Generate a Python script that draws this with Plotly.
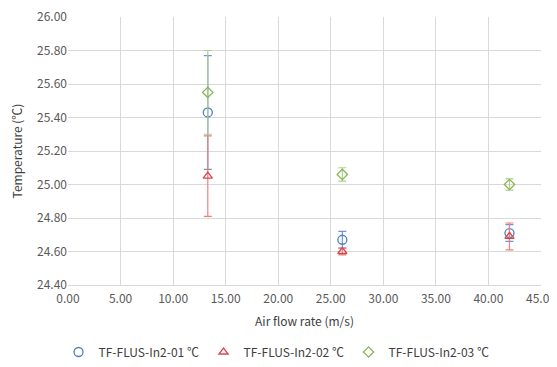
import plotly.graph_objects as go

x_vals = [13.3, 26.1, 42.0]
s1_name = "TF-FLUS-In2-01 ℃"
s1_vals = [25.43, 24.67, 24.71]
s1_err = [0.34, 0.05, 0.05]
s2_name = "TF-FLUS-In2-02 ℃"
s2_vals = [25.05, 24.60, 24.69]
s2_err = [0.24, 0.02, 0.08]
s3_name = "TF-FLUS-In2-03 ℃"
s3_vals = [25.55, 25.06, 25.00]
s3_err = [0.25, 0.04, 0.033]

x_ticks = [0, 5, 10, 15, 20, 25, 30, 35, 40, 45]
y_ticks = [24.4, 24.6, 24.8, 25.0, 25.2, 25.4, 25.6, 25.8, 26.0]

FONT = "Noto Sans CJK KR, Noto Sans, sans-serif"

fig = go.Figure()
order = [
    (s1_name, s1_vals, s1_err, "circle-open", "#4F7FC4", "#6C94D0", 9),
    (s2_name, s2_vals, s2_err, "triangle-up-open", "#D9464A", "#F07F80", 8),
    (s3_name, s3_vals, s3_err, "diamond-open", "#8DB456", "#A9D08E", 8),
]
for name, vals, err, sym, col, ecol, sz in order:
    fig.add_trace(go.Scatter(
        x=x_vals, y=vals, mode="markers", name=name,
        marker=dict(symbol=sym, size=sz, color=col, line=dict(width=1.3, color=col)),
        error_y=dict(type="data", array=err, visible=True, color=ecol, thickness=1.2, width=4),
    ))

fig.update_layout(
    width=549, height=367,
    margin=dict(l=60, r=16, t=9, b=90),
    paper_bgcolor="white", plot_bgcolor="white",
    font=dict(family=FONT, size=12, color="#595959"),
    showlegend=True,
    legend=dict(orientation="h", x=-0.02, xanchor="left", y=-0.25, yanchor="middle",
                font=dict(size=12, color="#404040"), entrywidth=100, entrywidthmode="pixels",
                itemwidth=30, traceorder="normal"),
    xaxis=dict(range=[0, 45], tickvals=x_ticks, ticktext=[f"{v:.2f}" for v in x_ticks],
               showgrid=True, gridcolor="#D9D9D9", gridwidth=1, zeroline=False,
               showline=True, linecolor="#D9D9D9", ticks="", automargin=False,
               ticklabeloverflow="allow", ticklabelstandoff=3,
               title=dict(text="Air flow rate (m/s)", font=dict(size=12, color="#404040"), standoff=12)),
    yaxis=dict(range=[24.4, 26.0], tickvals=y_ticks, ticktext=[f"{v:.2f}" for v in y_ticks],
               showgrid=True, gridcolor="#D9D9D9", gridwidth=1, zeroline=False,
               showline=False, ticks="", automargin=False,
               ticklabeloverflow="allow",
               title=dict(text="Temperature (℃)", font=dict(size=12, color="#404040"), standoff=16)),
)

fig.write_html("out.html")
